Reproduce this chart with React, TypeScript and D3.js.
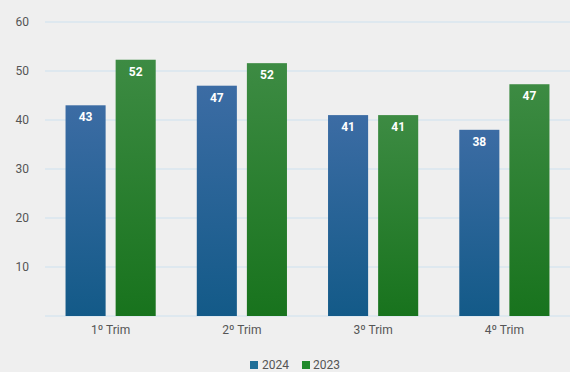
import React from "react";
import * as d3 from "d3";

const categories = ["1º Trim", "2º Trim", "3º Trim", "4º Trim"];
const seriesNames = ["2024", "2023"];
const values2024 = [43, 47, 41, 38];
const values2023 = [52.3, 51.6, 41, 47.3];
const yTicks = [10, 20, 30, 40, 50, 60];

const W = 570;
const H = 372;
const margin = { left: 45, right: 0, top: 22, bottom: 56 };

export default function App() {
  const x = d3
    .scaleBand<string>()
    .domain(categories)
    .range([margin.left, W - margin.right])
    .paddingInner(0)
    .paddingOuter(0);
  const y = d3.scaleLinear().domain([0, 60]).range([H - margin.bottom, margin.top]);
  const sub = d3.scaleBand<string>().domain(seriesNames).range([0, x.bandwidth()]).paddingInner(0.2).paddingOuter(0.41);
  const series = [
    { name: "2024", values: values2024, grad: "gBlue", legend: "#1f6f98" },
    { name: "2023", values: values2023, grad: "gGreen", legend: "#1f8a2a" },
  ];
  return (
    <svg width={W} height={H} style={{ position: "absolute", left: 0, top: 0, background: "#efefef", fontFamily: "Roboto, 'Noto Sans', sans-serif" }}>
      <defs>
        <linearGradient id="gBlue" x1="0" y1="0" x2="0" y2="1">
          <stop offset="0" stopColor="#3c6ca4" />
          <stop offset="1" stopColor="#135a88" />
        </linearGradient>
        <linearGradient id="gGreen" x1="0" y1="0" x2="0" y2="1">
          <stop offset="0" stopColor="#3d8b43" />
          <stop offset="1" stopColor="#18731d" />
        </linearGradient>
      </defs>
      <rect x={0} y={0} width={W} height={H} fill="#efefef" />
      {[0, ...yTicks].map((t) => (
        <line key={t} x1={margin.left} x2={W} y1={y(t)} y2={y(t)} stroke="#cde2f0" strokeWidth={1.2} />
      ))}
      {yTicks.map((t) => (
        <text key={t} x={29} y={y(t)} dy="0.35em" textAnchor="end" fontSize={12} fill="#555">
          {t}
        </text>
      ))}
      {series.map((s) =>
        categories.map((c, i) => {
          const bx = (x(c) as number) + (sub(s.name) as number);
          const by = y(s.values[i]);
          return (
            <g key={s.name + c}>
              <rect x={bx} y={by} width={sub.bandwidth()} height={y(0) - by} fill={`url(#${s.grad})`} />
              <text x={bx + sub.bandwidth() / 2} y={by + 16} textAnchor="middle" fontSize={12} fontWeight="bold" fill="#fff">
                {Math.round(s.values[i])}
              </text>
            </g>
          );
        })
      )}
      {categories.map((c) => (
        <text key={c} x={(x(c) as number) + x.bandwidth() / 2} y={334} textAnchor="middle" fontSize={12} fill="#555">
          {c}
        </text>
      ))}
      <g transform="translate(250,365)">
        <rect x={0} y={-4} width={8} height={8} fill={series[0].legend} />
        <text x={12} y={0} dy="0.35em" fontSize={12} fill="#555">{seriesNames[0]}</text>
        <rect x={52} y={-4} width={8} height={8} fill={series[1].legend} />
        <text x={63} y={0} dy="0.35em" fontSize={12} fill="#555">{seriesNames[1]}</text>
      </g>
    </svg>
  );
}
